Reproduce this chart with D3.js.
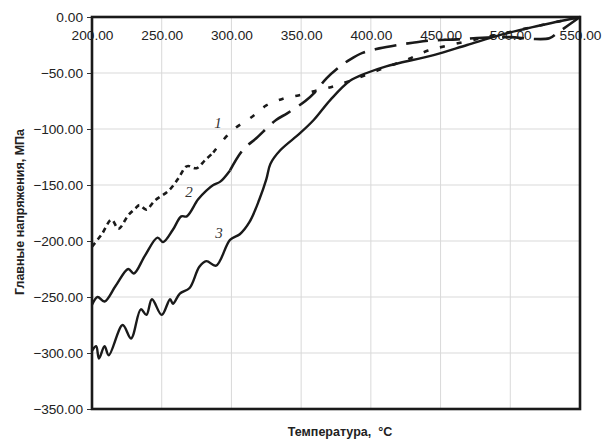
<!DOCTYPE html>
<html><head><meta charset="utf-8">
<script src="https://cdn.jsdelivr.net/npm/d3@7"></script>
<style>body{margin:0;background:#fff}svg{display:block}</style>
</head><body>
<svg id="c" width="602" height="439"></svg>
<script>
const xTicks = [200,250,300,350,400,450,500,550];
const yTicks = [0,-50,-100,-150,-200,-250,-300,-350];
const curve1 = [[200,-205],[207,-194],[214,-181],[219,-189],[226,-177],[231,-171],[234,-168],[239,-172],[245,-164],[255,-155],[262,-144],[267,-134],[269,-133],[275,-135],[281,-128],[287,-121],[300,-102],[316,-88],[325,-79],[337,-73],[348,-70],[360,-66],[373,-62],[385,-57],[400,-50],[415,-43],[428,-37],[441,-30],[457,-25],[475,-20],[490,-16],[516,-9],[550,0]];
const curve2 = [[200,-257],[204,-250],[209,-254],[217,-240],[226,-225],[230,-229],[238,-213],[247,-197],[251,-201],[258,-190],[264,-178],[268,-178],[276,-163],[282,-155],[287,-150],[292,-147],[299,-137],[308,-119],[318,-108],[332,-92],[340,-86],[353,-75],[360,-67],[368,-55],[376,-46],[385,-38],[394,-32],[406,-28],[419,-25],[430,-23],[443,-21],[462,-20],[480,-18.5],[500,-18],[515,-19.5],[528,-19],[534,-14],[550,0]];
const curve3 = [[200,-298],[203,-294],[205,-305],[209,-294],[212,-302],[222,-275],[228,-287],[235,-261],[239,-266],[243,-252],[250,-266],[256,-252],[258,-256],[263,-247],[270,-242],[277,-223],[282,-218],[289,-222],[299,-199],[306,-194],[313,-183],[320,-163],[325,-145],[328,-131],[335,-119],[349,-104],[359,-92],[371,-74],[385,-57],[397,-50],[411,-44],[445,-34],[469,-25],[493,-16],[516,-9],[550,0]];
const curveLabels = [["1",290.4,-94.6],["2",269.6,-156],["3",291,-193]];
const xTitle = "Температура,  °C";
const yTitle = "Главные напряжения, МПа";

const svg = d3.select("#c");
const L=92,R=580,T=17,B=409;
const x = d3.scaleLinear([200,550],[L,R]);
const y = d3.scaleLinear([-350,0],[B,T]);
const fmt = d3.format(".2f");
const font = "'Liberation Sans', Arial, sans-serif";

// grid
svg.append("g").selectAll("line").data(yTicks).join("line")
  .attr("x1",L).attr("x2",R).attr("y1",d=>y(d)).attr("y2",d=>y(d))
  .attr("stroke","#d9d9d9").attr("stroke-width",1);
svg.append("g").selectAll("line").data(xTicks).join("line")
  .attr("y1",T).attr("y2",B).attr("x1",d=>x(d)).attr("x2",d=>x(d))
  .attr("stroke","#d9d9d9").attr("stroke-width",1);

// y axis
const ya = svg.append("g").attr("transform",`translate(${L},0)`)
  .call(d3.axisLeft(y).tickValues(yTicks).tickFormat(fmt).tickSize(5).tickPadding(4));
ya.select(".domain").remove();
ya.selectAll("text").attr("font-family",font).attr("font-size","13.7px").attr("fill","#222");
ya.selectAll("line").attr("stroke","#333");

// x axis labels (top, inside)
const xa = svg.append("g").attr("transform",`translate(0,${T})`)
  .call(d3.axisBottom(x).tickValues(xTicks).tickFormat(fmt).tickSize(0).tickPadding(13));
xa.select(".domain").remove();
xa.selectAll("text").attr("font-family",font).attr("font-size","13.7px").attr("fill","#222");

// frame
svg.append("rect").attr("x",L).attr("y",T).attr("width",R-L).attr("height",B-T)
  .attr("fill","none").attr("stroke","#1a1a1a").attr("stroke-width",2.6);

const line = d3.line().x(d=>x(d[0])).y(d=>y(d[1])).curve(d3.curveCatmullRom.alpha(0.5));
const g = svg.append("g").attr("fill","none").attr("stroke","#1a1a1a").attr("stroke-linecap","butt");

g.append("path").attr("d",line(curve3)).attr("stroke-width",2.4);
g.append("path").attr("d",line(curve2.filter(d=>d[0]<=299))).attr("stroke-width",2.4);
g.append("path").attr("d",line(curve2.filter(d=>d[0]>=299))).attr("stroke-width",2.6).attr("stroke-dasharray","22,10");
g.append("path").attr("d",line(curve1.filter(d=>d[0]<=287))).attr("stroke-width",2.6).attr("stroke-dasharray","5,4");
g.append("path").attr("d",line(curve1.filter(d=>d[0]>=287))).attr("stroke-width",2.6).attr("stroke-dasharray","5,12");

svg.append("g").selectAll("text").data(curveLabels).join("text")
  .attr("x",d=>x(d[1])).attr("y",d=>y(d[2])).attr("dy","0.35em")
  .attr("text-anchor","middle").attr("font-family","'Liberation Serif', 'Times New Roman', serif")
  .attr("font-style","italic").attr("font-size","15px").attr("fill","#333").text(d=>d[0]);

svg.append("text").attr("x",340).attr("y",436).attr("text-anchor","middle")
  .attr("font-family",font).attr("font-weight","bold").attr("font-size","12.5px").attr("fill","#222")
  .attr("xml:space","preserve").style("white-space","pre").text(xTitle);
svg.append("text").attr("transform","translate(24,212) rotate(-90)").attr("text-anchor","middle")
  .attr("font-family",font).attr("font-weight","bold").attr("font-size","12.5px").attr("fill","#222")
  .text(yTitle);
</script>
</body></html>
